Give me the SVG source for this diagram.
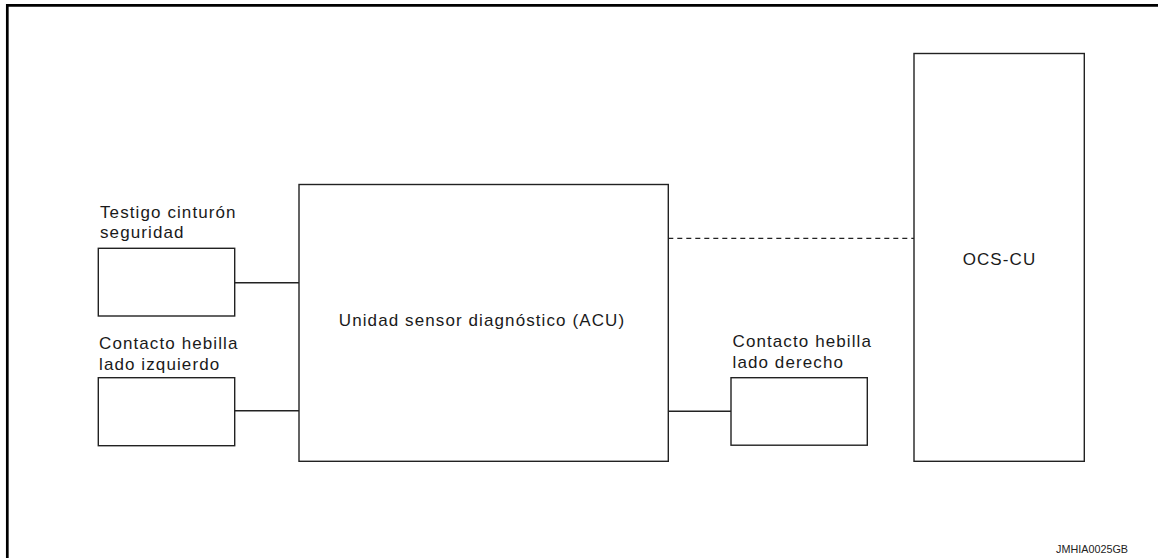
<svg xmlns="http://www.w3.org/2000/svg" width="1158" height="558" viewBox="0 0 1158 558">
<style>
.box{fill:#fff;stroke:#222;stroke-width:1.4}
.ln{stroke:#222;stroke-width:1.4;fill:none}
.dash{stroke:#222;stroke-width:1.3;fill:none;stroke-dasharray:5 4}
.t{font-family:"Liberation Sans",Arial,sans-serif;font-size:17px;letter-spacing:1.1px;fill:#1a1a1a}
.code{font-family:"Liberation Sans",Arial,sans-serif;font-size:11.5px;fill:#222}
</style>
<rect width="1158" height="558" fill="#fff"/>
<path d="M7.3 558 V5.3 H1158" fill="none" stroke="#000" stroke-width="2.7"/>
<g id="connectors">
<line class="ln" x1="235" y1="282.7" x2="299" y2="282.7"/>
<line class="ln" x1="235" y1="410.7" x2="299" y2="410.7"/>
<line class="ln" x1="668.3" y1="411.3" x2="731" y2="411.3"/>
<line class="dash" x1="668.3" y1="238.3" x2="914" y2="238.3"/>
</g>
<g id="acu">
<rect class="box" x="299" y="184.5" width="369.3" height="276.8"/>
<text class="t" x="482" y="326" text-anchor="middle">Unidad sensor diagnóstico (ACU)</text>
</g>
<g id="ocs-cu">
<rect class="box" x="914" y="53.5" width="170.3" height="407.8"/>
<text class="t" x="999.5" y="265" text-anchor="middle">OCS-CU</text>
</g>
<g id="testigo">
<rect class="box" x="98.3" y="248.3" width="136.4" height="67.7"/>
<text class="t" x="100"><tspan x="100" y="218.3">Testigo cinturón</tspan><tspan x="100" y="237.8">seguridad</tspan></text>
</g>
<g id="hebilla-izq">
<rect class="box" x="98.3" y="377.7" width="136.4" height="68"/>
<text class="t" x="99"><tspan x="99" y="349">Contacto hebilla</tspan><tspan x="99" y="369.5">lado izquierdo</tspan></text>
</g>
<g id="hebilla-der">
<rect class="box" x="731" y="377.7" width="136.3" height="67.5"/>
<text class="t" x="732.5"><tspan x="732.5" y="346.5">Contacto hebilla</tspan><tspan x="732.5" y="368">lado derecho</tspan></text>
</g>
<text class="code" x="1056" y="553" textLength="72" lengthAdjust="spacingAndGlyphs">JMHIA0025GB</text>
</svg>
